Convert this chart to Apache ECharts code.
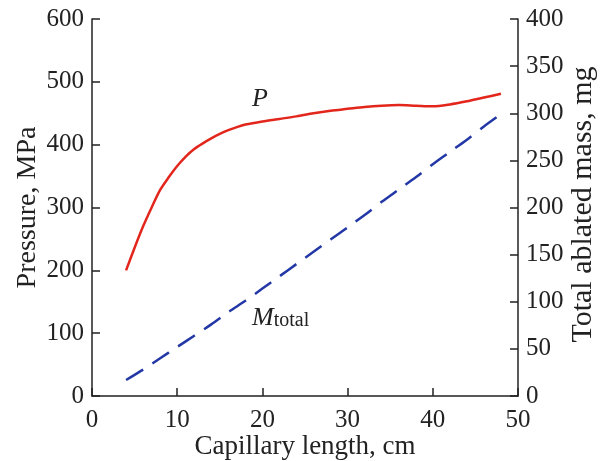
<!DOCTYPE html>
<html>
<head>
<meta charset="utf-8">
<script src="https://cdn.jsdelivr.net/npm/echarts@6/dist/echarts.min.js"></script>
<style>html,body{margin:0;padding:0;background:#fff}#c{width:602px;height:461px}</style>
</head>
<body>
<div id="c"></div>
<script>
// Capillary length, cm
const pX = [4, 5, 6, 7, 8, 9, 10, 11, 12, 13, 14, 15, 16, 17, 18, 20, 22, 24, 26, 28, 30, 32, 34, 36, 38, 40, 42, 44, 46, 48];
// Pressure, MPa
const pressure = [200, 236, 270, 300, 328, 348, 366, 381, 393, 402, 410, 417, 423, 428, 432, 437, 441, 445, 450, 454, 457, 460, 462, 463, 462, 461, 464, 469, 475, 481];
// Capillary length, cm
const mX = [4, 6, 8, 10, 12, 14, 16, 18, 20, 22, 24, 26, 28, 30, 32, 34, 36, 38, 40, 42, 44, 46, 48];
// Total ablated mass, mg
const mass = [17, 28, 40, 52, 64, 76, 89, 101, 114, 127, 140, 153, 166, 179, 192, 206, 219, 232, 246, 259, 272, 286, 299];

const FONT = '"Liberation Serif", "DejaVu Serif", serif';
const chart = echarts.init(document.getElementById('c'), null, {renderer: 'canvas'});
const axisLine = {show: true, lineStyle: {color: '#222', width: 1.5}};
const axisTick = {show: true, inside: true, length: 8, lineStyle: {color: '#222', width: 1.5}};
chart.setOption({
  animation: false,
  backgroundColor: '#fff',
  grid: {left: 92, right: 84, top: 19, bottom: 65, containLabel: false, outerBoundsMode: 'none'},
  xAxis: {
    type: 'value', min: 0, max: 50, interval: 10,
    name: 'Capillary length, cm', nameLocation: 'middle', nameGap: 37, nameMoveOverlap: false,
    nameTextStyle: {fontFamily: FONT, fontSize: 27, color: '#222'},
    axisLine: axisLine, axisTick: axisTick,
    axisLabel: {fontFamily: FONT, fontSize: 25, color: '#222', margin: 12},
    splitLine: {show: false}
  },
  yAxis: [{
    type: 'value', min: 0, max: 600, interval: 100, position: 'left',
    name: 'Pressure, MPa', nameLocation: 'middle', nameGap: 50, nameRotate: 90, nameMoveOverlap: false,
    nameTextStyle: {fontFamily: FONT, fontSize: 28, color: '#222'},
    axisLine: axisLine, axisTick: axisTick,
    axisLabel: {fontFamily: FONT, fontSize: 25, color: '#222', margin: 8},
    splitLine: {show: false}
  }, {
    type: 'value', min: 0, max: 400, interval: 50, position: 'right',
    name: 'Total ablated mass, mg', nameLocation: 'middle', nameGap: 50, nameRotate: 90, nameMoveOverlap: false,
    nameTextStyle: {fontFamily: FONT, fontSize: 30, color: '#222', padding: [0, 0, 0, 6]},
    axisLine: axisLine, axisTick: axisTick,
    axisLabel: {fontFamily: FONT, fontSize: 25, color: '#222', margin: 8},
    splitLine: {show: false}
  }],
  graphic: [
    {type: 'text', left: 252, top: 86, style: {text: 'P', font: 'italic 26px ' + FONT, fill: '#222'}},
    {type: 'text', left: 252, top: 305, style: {
      text: '{m|M}{s|total}', fill: '#222',
      rich: {m: {font: 'italic 26px ' + FONT, fill: '#222', verticalAlign: 'bottom'},
             s: {font: '20px ' + FONT, fill: '#222', padding: [12, 0, 0, 0], verticalAlign: 'bottom'}}
    }}
  ],
  series: [{
    type: 'line', yAxisIndex: 0, smooth: 0.3, symbol: 'none',
    data: pX.map((x, i) => [x, pressure[i]]),
    lineStyle: {color: '#e3261c', width: 2.5}
  }, {
    type: 'line', yAxisIndex: 1, smooth: 0.3, symbol: 'none',
    data: mX.map((x, i) => [x, mass[i]]),
    lineStyle: {color: '#2338a6', width: 2.5, type: [20, 11]}
  }]
});
</script>
</body>
</html>
